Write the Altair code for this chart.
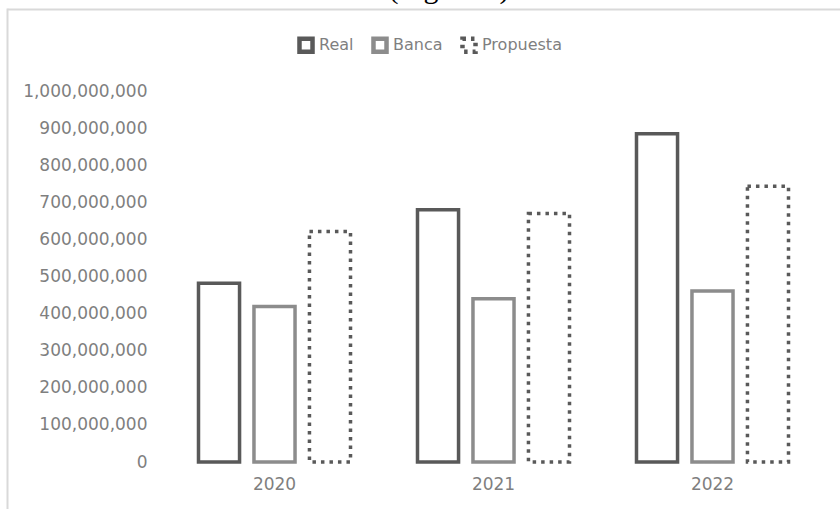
import altair as alt
import pandas as pd

years = ["2020", "2021", "2022"]
series = ["Real", "Banca", "Propuesta"]
real = [482e6, 680e6, 885e6]
banca = [419e6, 440e6, 461e6]
propuesta = [621e6, 670e6, 743e6]
y_ticks = [0, 1e8, 2e8, 3e8, 4e8, 5e8, 6e8, 7e8, 8e8, 9e8, 1e9]
title_text = "(Figura 1)"

rows = []
for i, yr in enumerate(years):
    for s, vals in zip(series, [real, banca, propuesta]):
        rows.append({"Año": yr, "Serie": s, "Valor": vals[i]})
df = pd.DataFrame(rows)

FONT = "DejaVu Sans"
LBL = "#7f7f7f"

legend_cfg = dict(
    title=None, orient="none", direction="horizontal", legendX=132, legendY=-55,
    symbolType="square", symbolSize=170, symbolStrokeWidth=4.5,
    labelFont=FONT, labelFontSize=16, labelColor=LBL, labelOffset=4,
    columnPadding=10, padding=0,
)

bars = alt.Chart(df).mark_bar(filled=False, strokeWidth=3.5).encode(
    x=alt.X("Año:N", sort=years,
            scale=alt.Scale(paddingInner=0.24, paddingOuter=0.12),
            axis=alt.Axis(title=None, labelAngle=0, domain=False, ticks=False,
                          labelPadding=14, labelFont=FONT, labelFontSize=17,
                          labelColor=LBL)),
    xOffset=alt.XOffset("Serie:N", sort=series,
                        scale=alt.Scale(paddingInner=0.26, paddingOuter=0.13)),
    y=alt.Y("Valor:Q", scale=alt.Scale(domain=[0, 1e9], nice=False),
            axis=alt.Axis(values=y_ticks, format=",.0f", title=None, grid=False,
                          domain=False, ticks=False, labelPadding=18,
                          labelFont=FONT, labelFontSize=17, labelColor=LBL)),
    color=alt.Color("Serie:N", sort=series,
                    scale=alt.Scale(domain=series, range=["#595959", "#8c8c8c", "#595959"]),
                    legend=alt.Legend(**legend_cfg)),
    strokeDash=alt.StrokeDash("Serie:N", sort=series,
                              scale=alt.Scale(domain=series, range=[[1, 0], [1, 0], [3.5, 5]]),
                              legend=alt.Legend(**legend_cfg)),
)

frame_df = pd.DataFrame({"t": [title_text]})
frame_h = alt.Chart(frame_df).mark_rule(color="#d9d9d9", strokeWidth=2).encode(
    x=alt.value(-157.5), x2=alt.value(700), y=alt.value(-81.5))
frame_v = alt.Chart(frame_df).mark_rule(color="#d9d9d9", strokeWidth=2).encode(
    x=alt.value(-157.5), y=alt.value(-82.5), y2=alt.value(430))
title = alt.Chart(frame_df).mark_text(
    font="Liberation Serif", fontSize=30, color="#000000", baseline="alphabetic",
    align="center").encode(x=alt.value(284), y=alt.value(-93), text="t:N")

chart = alt.layer(frame_h, frame_v, title, bars).properties(
    width=657, height=371,
    autosize=alt.AutoSizeParams(type="none"),
    padding={"left": 165, "top": 91, "right": 18, "bottom": 47},
    background="white",
).configure_view(stroke=None)

chart.save("out.html", embed_options={"renderer": "svg", "actions": False})
